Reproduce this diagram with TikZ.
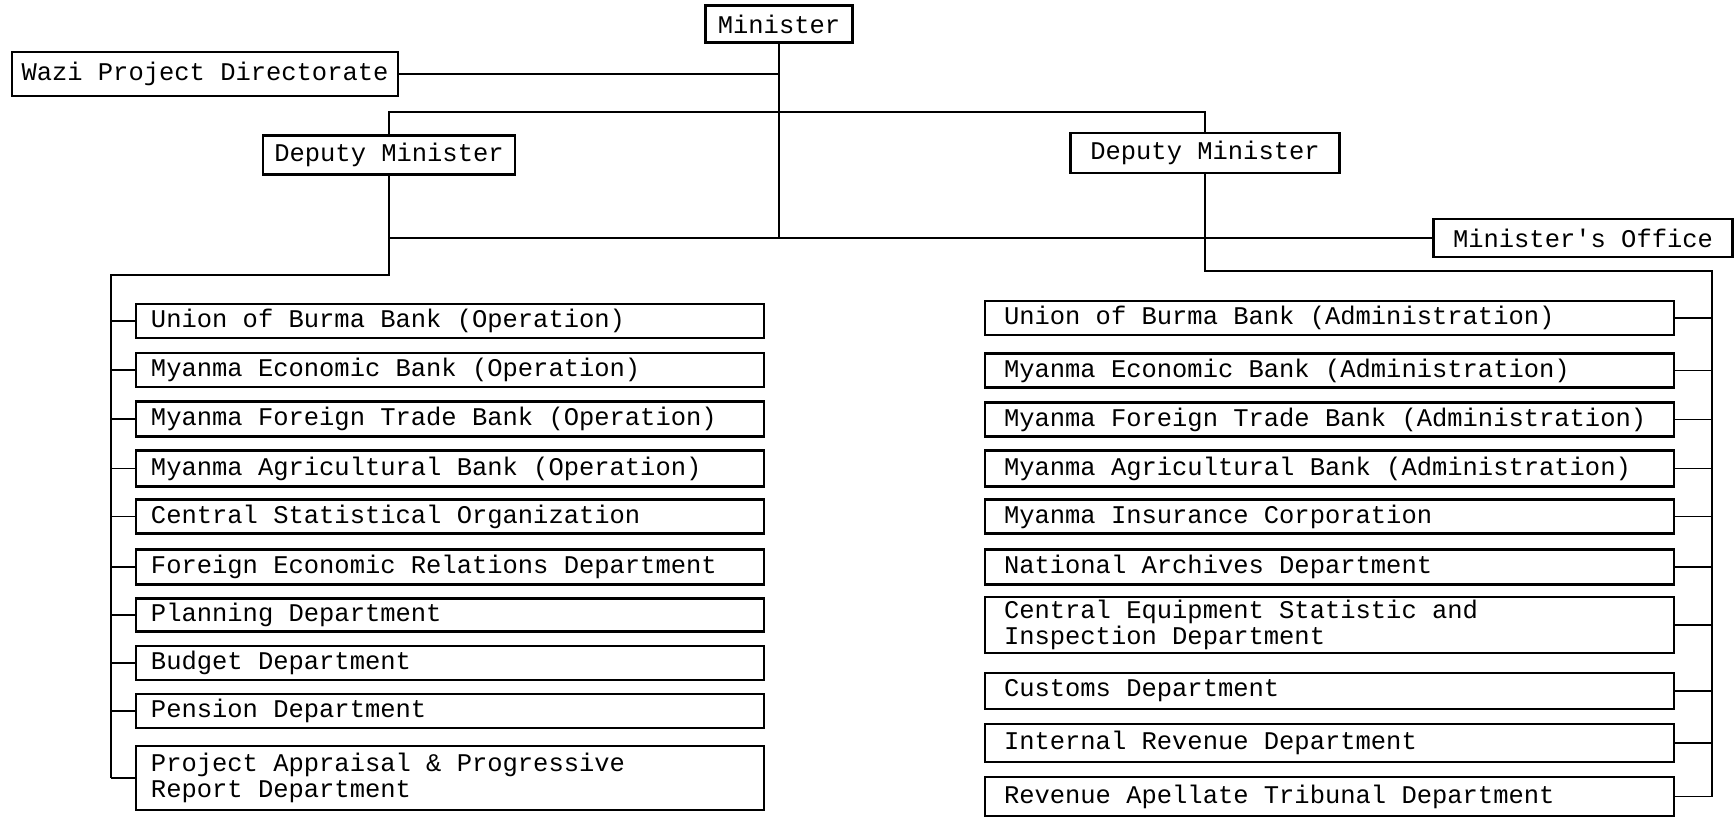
\documentclass[tikz,border=0pt]{standalone}
\usepackage{fontspec}
\setmonofont{Liberation Mono}
\tikzset{every picture/.style={
    every path/.style={line width=0.9pt},
}}
\tikzset{
    unit/.style={draw, line width=1.5pt, inner ysep=0.5mm,
        font=\ttfamily\fontsize{14.5pt}{15pt}\selectfont},
    listbox/.style={unit, align=left, minimum height=6.8mm,
        execute at begin node={\spaceskip=\fontdimen2\font\xspaceskip=\fontdimen2\font\relax}},
    opbox/.style={listbox, inner xsep=3mm, text width=119.6mm},
    adbox/.style={listbox, inner xsep=3.8mm, text width=130.2mm},
}

\begin{document}
\begin{tikzpicture}[x=0.2mm, y=-0.2mm]
    \useasboundingbox (0,0) rectangle (1736,818);
    \node[unit, minimum width=29.4mm, minimum height=7.4mm] (min) at (779,24) {Minister};
    \node[unit, minimum width=77.2mm, minimum height=8.8mm] (wazi) at (205,74) {Wazi Project Directorate};
    \node[unit, minimum width=50.4mm, minimum height=7.8mm] (depL) at (389,155) {Deputy Minister};
    \node[unit, minimum width=53.8mm, minimum height=8mm] (depR) at (1205,153) {Deputy Minister};
    \node[unit, minimum width=59.8mm, minimum height=7.6mm] (office) at (1583,238) {Minister's Office};

    \node[opbox] (ubbop) at (450,321) {Union of Burma Bank (Operation)};
    \node[opbox] (mebop) at (450,370) {Myanma Economic Bank (Operation)};
    \node[opbox, minimum height=7mm] (mftbop) at (450,419) {Myanma Foreign Trade Bank (Operation)};
    \node[opbox, minimum height=7.2mm] (mabop) at (450,468.5) {Myanma Agricultural Bank (Operation)};
    \node[opbox] (cso) at (450,516.5) {Central Statistical Organization};
    \node[opbox, minimum height=7mm] (ferd) at (450,567) {Foreign Economic Relations Department};
    \node[opbox, minimum height=6.6mm] (plan) at (450,615) {Planning Department};
    \node[opbox] (budget) at (450,663) {Budget Department};
    \node[opbox] (pension) at (450,711) {Pension Department};
    \node[opbox, minimum height=12.8mm] (pard) at (450,778) {Project Appraisal \& Progressive\\Report Department};

    \node[adbox] (ubbad) at (1329.5,318) {Union of Burma Bank (Administration)};
    \node[adbox] (mebad) at (1329.5,370.5) {Myanma Economic Bank (Administration)};
    \node[adbox] (mftbad) at (1329.5,419.5) {Myanma Foreign Trade Bank (Administration)};
    \node[adbox, minimum height=7.2mm] (mabad) at (1329.5,468.5) {Myanma Agricultural Bank (Administration)};
    \node[adbox] (mic) at (1329.5,516.5) {Myanma Insurance Corporation};
    \node[adbox, minimum height=7mm] (nad) at (1329.5,567) {National Archives Department};
    \node[adbox, minimum height=11.2mm] (cesid) at (1329.5,625) {Central Equipment Statistic and\\Inspection Department};
    \node[adbox, minimum height=7.2mm] (customs) at (1329.5,691) {Customs Department};
    \node[adbox, minimum height=7.6mm] (ird) at (1329.5,743) {Internal Revenue Department};
    \node[adbox, minimum height=7.8mm] (ratd) at (1329.5,796.5) {Revenue Apellate Tribunal Department};

    \coordinate (split) at (779,112);
    \coordinate (busL) at (111,275);
    \coordinate (busR) at (1712,271);

    \draw (min.south) -- (min.south |- office.west);
    \draw (wazi.east) -- (wazi.east -| min.south);
    \draw (depL.north) |- (split) -| (depR.north);
    \draw (depL.south) |- (office.west);
    \draw (depL.south) |- (busL) -- (busL |- pard.west);
    \draw (depR.south) |- (busR) -- (busR |- ratd.east);

    \draw (ubbop.west) -- (ubbop.west -| busL);
    \draw (mebop.west) -- (mebop.west -| busL);
    \draw (mftbop.west) -- (mftbop.west -| busL);
    \draw (mabop.west) -- (mabop.west -| busL);
    \draw (cso.west) -- (cso.west -| busL);
    \draw (ferd.west) -- (ferd.west -| busL);
    \draw (plan.west) -- (plan.west -| busL);
    \draw (budget.west) -- (budget.west -| busL);
    \draw (pension.west) -- (pension.west -| busL);
    \draw (pard.west) -- (pard.west -| busL);

    \draw (ubbad.east) -- (ubbad.east -| busR);
    \draw (mebad.east) -- (mebad.east -| busR);
    \draw (mftbad.east) -- (mftbad.east -| busR);
    \draw (mabad.east) -- (mabad.east -| busR);
    \draw (mic.east) -- (mic.east -| busR);
    \draw (nad.east) -- (nad.east -| busR);
    \draw (cesid.east) -- (cesid.east -| busR);
    \draw (customs.east) -- (customs.east -| busR);
    \draw (ird.east) -- (ird.east -| busR);
    \draw (ratd.east) -- (ratd.east -| busR);
\end{tikzpicture}
\end{document}
